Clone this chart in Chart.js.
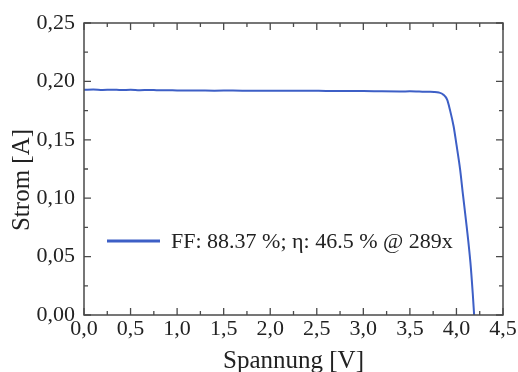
<!DOCTYPE html>
<html>
<head>
<meta charset="utf-8">
<script src="https://cdn.jsdelivr.net/npm/chart.js@4"></script>
<style>
  html, body { margin: 0; padding: 0; background: #fff; }
  #wrap { width: 518px; height: 372px; }
</style>
</head>
<body>
<div id="wrap"><canvas id="myChart" width="518" height="372"></canvas></div>
<script>
// Kennlinie (Spannung in V, Strom in A)
const spannung = [0.00, 0.10, 0.20, 0.30, 0.40, 0.50, 0.60, 0.70, 0.80, 0.90,
  1.00, 1.20, 1.40, 1.60, 1.80, 2.00, 2.20, 2.40, 2.60, 2.80, 3.00, 3.20,
  3.40, 3.50, 3.60, 3.70, 3.76, 3.81, 3.86, 3.90, 3.93, 3.97, 4.00, 4.04,
  4.07, 4.11, 4.15, 4.175, 4.19];
const strom = [0.1928, 0.1930, 0.1927, 0.1929, 0.1926, 0.1928, 0.1925, 0.1927, 0.1924, 0.1925,
  0.1923, 0.1923, 0.1921, 0.1922, 0.1920, 0.1921, 0.1919, 0.1920, 0.1918, 0.1917, 0.1918, 0.1915,
  0.1914, 0.1915, 0.1913, 0.1911, 0.1910, 0.1905, 0.1886, 0.1843, 0.1757, 0.1614, 0.1460, 0.1243,
  0.1030, 0.0757, 0.0450, 0.0186, 0.0000];
const legendeText = "FF: 88.37 %; η: 46.5 % @ 289x";
const xTicks = [0, 0.5, 1, 1.5, 2, 2.5, 3, 3.5, 4, 4.5];
const yTicks = [0, 0.05, 0.10, 0.15, 0.20, 0.25];

const schrift = "'Liberation Serif', 'Times New Roman', serif";
const linienFarbe = "#3d5fc6";
const rahmenFarbe = "#4a4a4a";

const punkte = spannung.map((v, i) => ({ x: v, y: strom[i] }));

// Rahmen, nach innen zeigende Ticks, y-Titel und Legende im Diagramm
const rahmenPlugin = {
  id: "rahmen",
  afterDatasetsDraw(chart) {
    const { ctx, chartArea: a, scales } = chart;
    const sx = scales.x, sy = scales.y;
    ctx.save();
    ctx.strokeStyle = rahmenFarbe;
    ctx.lineWidth = 1.5;
    ctx.strokeRect(a.left, a.top, a.right - a.left, a.bottom - a.top);
    ctx.lineWidth = 1.3;
    ctx.beginPath();
    for (let v = 0; v <= 4.5001; v += 0.25) {
      const px = sx.getPixelForValue(v);
      const len = Math.abs(v / 0.5 - Math.round(v / 0.5)) < 0.01 ? 7 : 4;
      ctx.moveTo(px, a.bottom); ctx.lineTo(px, a.bottom - len);
      ctx.moveTo(px, a.top); ctx.lineTo(px, a.top + len);
    }
    for (let v = 0; v <= 0.2501; v += 0.025) {
      const py = sy.getPixelForValue(v);
      const len = Math.abs(v / 0.05 - Math.round(v / 0.05)) < 0.01 ? 7 : 4;
      ctx.moveTo(a.left, py); ctx.lineTo(a.left + len, py);
      ctx.moveTo(a.right, py); ctx.lineTo(a.right - len, py);
    }
    ctx.stroke();

    // y-Achsentitel
    ctx.fillStyle = "#222";
    ctx.font = "25px " + schrift;
    ctx.textAlign = "center";
    ctx.textBaseline = "middle";
    ctx.translate(22, 180);
    ctx.rotate(-Math.PI / 2);
    ctx.fillText("Strom [A]", 0, 0);
    ctx.setTransform(1, 0, 0, 1, 0, 0);

    // Legende
    const ly = 241;
    ctx.strokeStyle = linienFarbe;
    ctx.lineWidth = 3;
    ctx.beginPath();
    ctx.moveTo(107, ly); ctx.lineTo(160, ly);
    ctx.stroke();
    ctx.font = "22px " + schrift;
    ctx.textAlign = "left";
    ctx.fillText(chart.data.datasets[0].label, 171, ly + 1);
    ctx.restore();
  }
};

new Chart(document.getElementById("myChart"), {
  type: "scatter",
  data: {
    datasets: [{
      label: legendeText,
      data: punkte,
      showLine: true,
      borderColor: linienFarbe,
      borderWidth: 2,
      pointRadius: 0,
      cubicInterpolationMode: "monotone",
      clip: false
    }]
  },
  options: {
    responsive: false,
    animation: false,
    layout: { padding: { left: 0, top: 23, right: 15, bottom: 0 } },
    plugins: { legend: { display: false }, tooltip: { enabled: false } },
    scales: {
      x: {
        type: "linear",
        min: 0, max: 4.5,
        afterBuildTicks: (s) => { s.ticks = xTicks.map(v => ({ value: v })); },
        afterFit: (s) => { s.height = 57; },
        grid: { display: false, drawTicks: false },
        border: { display: false },
        ticks: {
          color: "#222",
          font: { family: schrift, size: 22 },
          padding: 1,
          maxRotation: 0,
          autoSkip: false,
          callback: (v) => Number(v).toFixed(1).replace(".", ",")
        },
        title: {
          display: true,
          text: "Spannung [V]",
          color: "#222",
          font: { family: schrift, size: 25, lineHeight: 1.1 },
          padding: { top: 0, bottom: -3 }
        }
      },
      y: {
        type: "linear",
        min: 0, max: 0.25,
        afterBuildTicks: (s) => { s.ticks = yTicks.map(v => ({ value: v })); },
        afterFit: (s) => { s.width = 84; },
        grid: { display: false, drawTicks: false },
        border: { display: false },
        ticks: {
          color: "#222",
          font: { family: schrift, size: 22 },
          padding: 9,
          autoSkip: false,
          callback: (v) => Number(v).toFixed(2).replace(".", ",")
        },
        title: { display: false }
      }
    }
  },
  plugins: [rahmenPlugin]
});
</script>
</body>
</html>
